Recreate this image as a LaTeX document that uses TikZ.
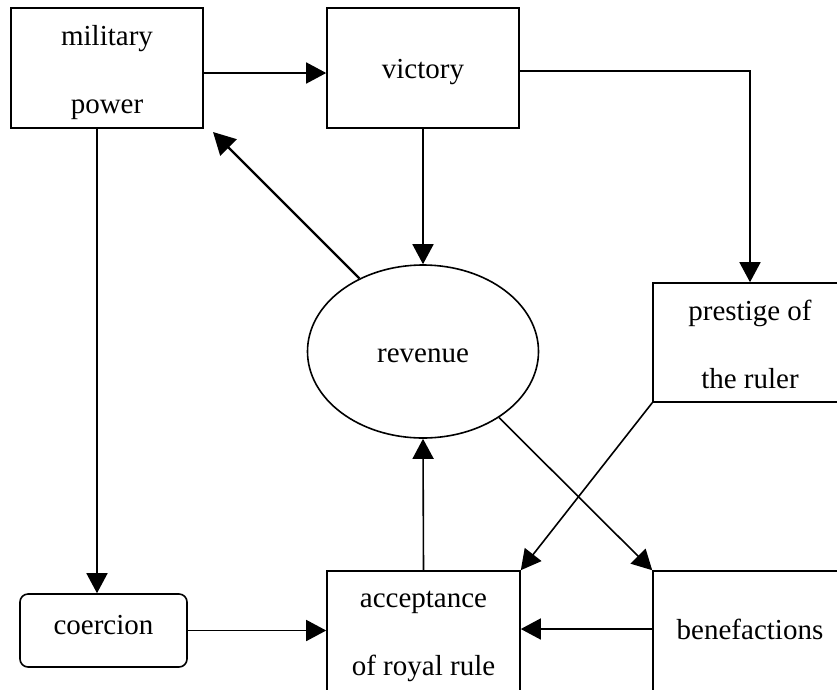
\documentclass[tikz,border=0pt]{standalone}
\usepackage{fontspec}
\setmainfont{Liberation Serif}
\usetikzlibrary{arrows.meta,shapes.geometric}
\begin{document}
\begin{tikzpicture}[x=1pt,y=-1pt,
  box/.style={draw, line width=1.6pt, rectangle, inner sep=0pt},
  rbox/.style={box, rounded corners=8pt},
  oval/.style={draw, line width=1.6pt, ellipse, inner sep=0pt},
  every label/.style={align=center, inner sep=0pt, font=\fontsize{29}{68}\selectfont},
  arr/.style={line width=1.6pt, -{Triangle[length=20pt,width=21pt]}},
  arrthick/.style={line width=2.3pt, -{Triangle[length=22pt,width=23pt]}}
]
\useasboundingbox (0,0) rectangle (837,689);
\node[box, minimum width=192pt, minimum height=120pt,
  label={[name=militaryT, yshift=-5pt]center:{military\\power}}] (military) at (107,68) {};
\node[box, minimum width=192pt, minimum height=120pt,
  label={[name=victoryT, yshift=-4pt]center:{victory}}] (victory) at (423,68) {};
\node[oval, minimum width=231pt, minimum height=173pt,
  label={[name=revenueT, yshift=-4pt]center:{revenue}}] (revenue) at (423,351.5) {};
\node[box, minimum width=194pt, minimum height=119pt,
  label={[name=prestigeT, yshift=-1.5pt]center:{prestige of\\the ruler}}] (prestige) at (750,342.5) {};
\node[rbox, minimum width=167pt, minimum height=73pt,
  label={[name=coercionT, yshift=5pt]center:{coercion}}] (coercion) at (103.5,630.5) {};
\node[box, minimum width=193pt, minimum height=124pt,
  label={[name=acceptT, yshift=-3.5pt]center:{acceptance\\of royal rule}}] (accept) at (423.5,633) {};
\node[box, minimum width=194pt, minimum height=124pt,
  label={[name=benefT, yshift=4pt]center:{benefactions}}] (benef) at (750,633) {};
\coordinate (mtip) at (213,132);

\draw[arr] ([yshift=-5pt]military.east) -- ([yshift=-5pt]military.east -| victory.west);
\draw[arr] ([yshift=-3pt]victory.east) -| (prestige.north);
\draw[arr] (victory.south) -- (revenue.north);
\draw[arr] ([xshift=-10pt]military.south) -- ([xshift=-10pt]military.south |- coercion.north);
\draw[arr] (coercion.east) -- (coercion.east -| accept.west);
\draw[arr] ([yshift=4pt]benef.west) -- ([yshift=4pt]accept.east);
\draw[arr] (accept.north) -- (revenue.south);
\draw[arrthick] (revenue.131) -- (mtip);
\draw[arr] (revenue.-41) -- (benef.north west);
\draw[arr] (prestige.south west) -- (accept.north east);
\end{tikzpicture}
\end{document}
